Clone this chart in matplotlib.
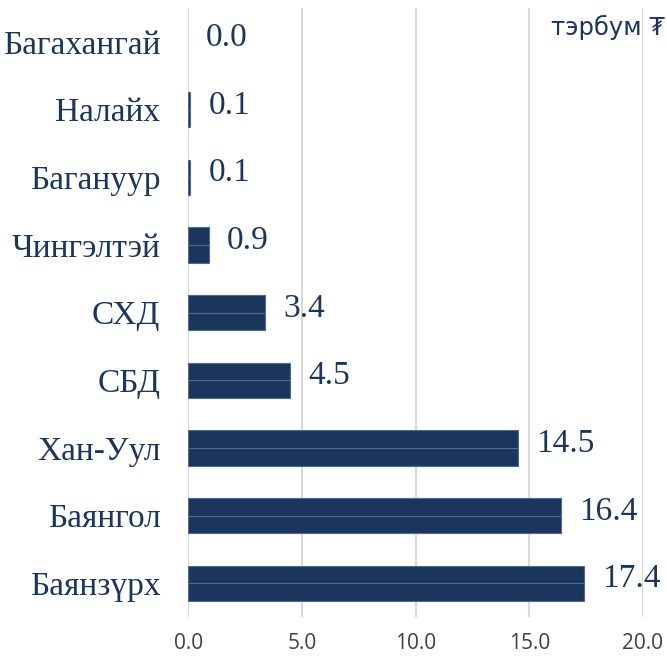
import matplotlib.pyplot as plt
import numpy as np

# Өгөгдөл
districts = ["Баянзүрх", "Баянгол", "Хан-Уул", "СБД", "СХД",
             "Чингэлтэй", "Багануур", "Налайх", "Багахангай"]
values = [17.4, 16.4, 14.5, 4.5, 3.4, 0.9, 0.1, 0.1, 0.0]
xticks = [0, 5, 10, 15, 20]
unit_label = "тэрбум ₮"

navy = "#1B365D"
edge = "#4F6A90"

fig = plt.figure(figsize=(6.67, 6.63), dpi=100)
ax = fig.add_axes([0.282, 0.069, 0.682, 0.919])

y = np.arange(len(districts))
h = 0.26
lw = [0.8 if v > 0 else 0 for v in values]  # no edge on empty bars
# two halves -> thin light line through the middle like the original
ax.barh(y - h / 2, values, height=h, color=navy, edgecolor=edge, linewidth=lw, zorder=3)
ax.barh(y + h / 2, values, height=h, color=navy, edgecolor=edge, linewidth=lw, zorder=3)

for yi, v in zip(y, values):
    ax.annotate(f"{v:.1f}", xy=(v, yi), xytext=(13, 3), textcoords="offset points",
                ha="left", va="center", fontsize=24, color=navy,
                family="Liberation Serif")

ax.set_xlim(0, 20)
ax.set_ylim(-0.5, len(districts) - 0.5)
ax.set_yticks(y)
ax.set_yticklabels(districts, family="Liberation Serif", fontsize=24, color=navy)
ax.set_xticks(xticks)
ax.set_xticklabels([f"{t:.1f}" for t in xticks], family="Open Sans", fontsize=15,
                   color="#404040")
ax.tick_params(axis="both", length=0)
ax.tick_params(axis="y", pad=20)
ax.tick_params(axis="x", pad=11)

ax.grid(axis="x", color="#D9D9D9", linewidth=1.5, zorder=0)
ax.set_axisbelow(True)
for s in ax.spines.values():
    s.set_visible(False)

fig.text(0.997, 0.958, unit_label, ha="right", va="center", fontsize=17.5,
         color=navy, family="DejaVu Sans")

plt.savefig("out.png", dpi=100)
